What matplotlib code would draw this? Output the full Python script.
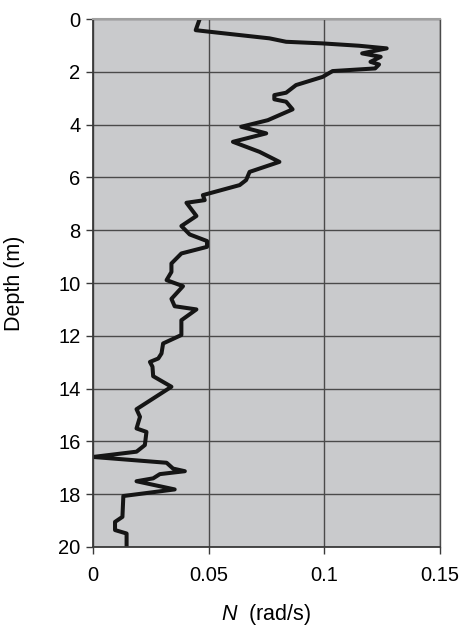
"""
Buoyancy frequency profile N versus depth.
"""

import numpy as np
import matplotlib
matplotlib.use("Agg")
import matplotlib.pyplot as plt

plt.rcParams['font.family'] = ['Liberation Sans', 'DejaVu Sans']
plt.rcParams['mathtext.fontset'] = 'custom'
plt.rcParams['mathtext.it'] = 'Liberation Sans:italic'
plt.rcParams['mathtext.rm'] = 'Liberation Sans'

# Buoyancy frequency (rad/s) at each depth (m)
n_freq = [
    0.0461, 0.0444, 0.0504, 0.0763, 0.0835, 0.0990, 0.1150, 0.1270, 0.1164,
    0.1244, 0.1200, 0.1237, 0.1220, 0.1036, 0.0993, 0.0878, 0.0835, 0.0784,
    0.0784, 0.0835, 0.0863, 0.0756, 0.0641, 0.0749, 0.0605, 0.0720, 0.0806,
    0.0677, 0.0662, 0.0634, 0.0475, 0.0483, 0.0404, 0.0447, 0.0382, 0.0418,
    0.0493, 0.0493, 0.0382, 0.0339, 0.0339, 0.0318, 0.0389, 0.0339, 0.0353,
    0.0447, 0.0382, 0.0382, 0.0303, 0.0296, 0.0282, 0.0246, 0.0257, 0.0260,
    0.0339, 0.0188, 0.0203, 0.0188, 0.0231, 0.0224, 0.0188, 0.0000, 0.0318,
    0.0346, 0.0397, 0.0289, 0.0260, 0.0188, 0.0353, 0.0131, 0.0127, 0.0095,
    0.0095, 0.0145, 0.0145,
]
depth = [
    0.00, 0.42, 0.48, 0.73, 0.86, 0.92, 1.01, 1.11, 1.30,
    1.43, 1.62, 1.72, 1.87, 1.97, 2.19, 2.50, 2.79, 2.88,
    3.04, 3.13, 3.42, 3.83, 4.08, 4.33, 4.65, 5.03, 5.41,
    5.79, 6.10, 6.29, 6.67, 6.86, 6.96, 7.46, 7.84, 8.16,
    8.41, 8.63, 8.88, 9.26, 9.58, 9.89, 10.12, 10.60, 10.88,
    11.00, 11.41, 11.97, 12.29, 12.67, 12.86, 12.99, 13.17, 13.53,
    13.93, 14.78, 15.07, 15.51, 15.64, 16.14, 16.39, 16.59, 16.81,
    17.03, 17.13, 17.24, 17.40, 17.51, 17.82, 18.07, 18.86, 19.05,
    19.36, 19.49, 20.00,
]

x_ticks = [0, 0.05, 0.1, 0.15]
x_tick_labels = ['0', '0.05', '0.1', '0.15']
y_ticks = np.arange(0, 21, 2)

fig = plt.figure(figsize=(4.63, 6.36), dpi=100)
ax = fig.add_axes([0.201, 0.140, 0.749, 0.830])

ax.set_facecolor('#c9cacc')
ax.plot(n_freq, depth, color='#151515', linewidth=2.9,
        solid_joinstyle='round', solid_capstyle='butt')

ax.set_xlim(0, 0.15)
ax.set_ylim(20, 0)
ax.set_xticks(x_ticks)
ax.set_xticklabels(x_tick_labels)
ax.set_yticks(y_ticks)

ax.grid(True, color='#4a4a4a', linewidth=1.0)
ax.set_axisbelow(True)

for side in ['left', 'bottom']:
    ax.spines[side].set_color('#3a3a3a')
    ax.spines[side].set_linewidth(1.3)
ax.spines['top'].set_color('#a0a0a0')
ax.spines['top'].set_linewidth(1.5)
ax.spines['right'].set_color('#4a4a4a')
ax.spines['right'].set_linewidth(1.0)

ax.tick_params(axis='both', direction='out', length=5, width=1.0,
               color='#3a3a3a', labelsize=14.5, pad=4)
ax.tick_params(axis='x', pad=9)

ax.set_ylabel('Depth (m)', fontsize=15.5, labelpad=24)
ax.set_xlabel(r'$N$  (rad/s)', fontsize=15.5, labelpad=12)

plt.savefig('out.png', dpi=100)
